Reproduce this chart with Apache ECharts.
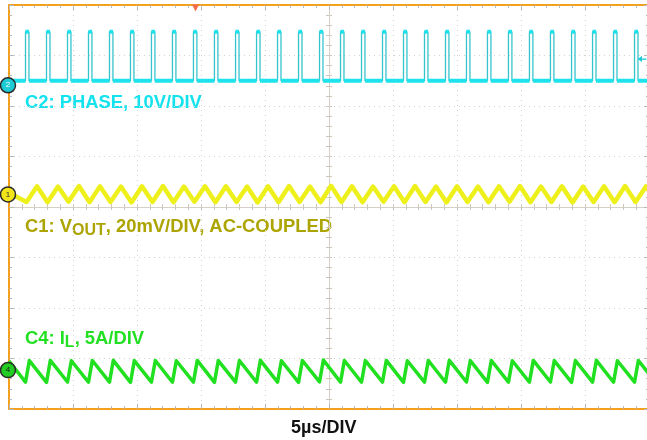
<!DOCTYPE html>
<html>
<head>
<meta charset="utf-8">
<title>Switching waveforms</title>
<script src="https://cdn.jsdelivr.net/npm/echarts@6.0.0/dist/echarts.min.js"></script>
<style>
  html, body { margin: 0; padding: 0; background: #fff; }
  #chart { width: 647px; height: 440px; }
</style>
</head>
<body>
<div id="chart"></div>
<script>
// time axis: µs from screen centre, 5 µs/div, 10 div wide
// PHASE switch node, rising / falling edge of every pulse (µs)
const phaseRise = [-23.71, -22.07, -20.43, -18.79, -17.15, -15.51, -13.87, -12.23, -10.59, -8.95,
  -7.30, -5.66, -4.02, -2.38, -0.74, 0.90, 2.54, 4.18, 5.82, 7.46,
  9.10, 10.74, 12.38, 14.02, 15.66, 17.30, 18.95, 20.59, 22.23, 23.87];
const phaseFall = [-23.44, -21.80, -20.16, -18.52, -16.88, -15.24, -13.60, -11.96, -10.32, -8.68,
  -7.03, -5.39, -3.75, -2.11, -0.47, 1.17, 2.81, 4.45, 6.09, 7.73,
  9.37, 11.01, 12.65, 14.29, 15.93, 17.57, 19.22, 20.86, 22.50, 24.14];
const phaseLevel = [0.9, 10.6]; // V, low / high

// VOUT ripple turning points (µs, mV, AC coupled)
const voutTime = [-25.00,
  -23.63, -22.81, -21.99, -21.17, -20.35, -19.53, -18.71, -17.89, -17.07, -16.25,
  -15.43, -14.61, -13.79, -12.97, -12.15, -11.33, -10.51, -9.69, -8.87, -8.05,
  -7.22, -6.40, -5.58, -4.76, -3.94, -3.12, -2.30, -1.48, -0.66, 0.16,
  0.98, 1.80, 2.62, 3.44, 4.26, 5.08, 5.90, 6.72, 7.54, 8.36,
  9.18, 10.00, 10.82, 11.64, 12.46, 13.28, 14.10, 14.92, 15.74, 16.56,
  17.38, 18.20, 19.03, 19.85, 20.67, 21.49, 22.31, 23.13, 23.95, 24.77,
  25.00];
const voutValue = [0.6,
  -3.0, 3.2, -3.1, 3.1, -2.9, 3.3, -3.1, 3.2, -3.0, 3.1,
  -3.2, 3.2, -3.0, 3.3, -3.1, 3.1, -2.9, 3.2, -3.1, 3.2,
  -3.0, 3.1, -3.2, 3.2, -3.1, 3.3, -3.0, 3.1, -3.1, 3.4,
  -3.0, 3.2, -3.1, 3.1, -2.9, 3.2, -3.1, 3.3, -3.0, 3.1,
  -3.2, 3.2, -3.0, 3.1, -3.1, 3.2, -2.9, 3.3, -3.1, 3.1,
  -3.0, 3.2, -3.2, 3.1, -3.0, 3.2, -3.1, 3.3, -3.0, 3.2,
  1.4];

// inductor current turning points (µs, A)
const ilTime = [-25.00,
  -23.71, -23.41, -22.07, -21.77, -20.43, -20.13, -18.79, -18.49, -17.15, -16.85,
  -15.51, -15.21, -13.87, -13.57, -12.23, -11.93, -10.59, -10.29, -8.95, -8.65,
  -7.30, -7.00, -5.66, -5.36, -4.02, -3.72, -2.38, -2.08, -0.74, -0.44,
  0.90, 1.20, 2.54, 2.84, 4.18, 4.48, 5.82, 6.12, 7.46, 7.76,
  9.10, 9.40, 10.74, 11.04, 12.38, 12.68, 14.02, 14.32, 15.66, 15.96,
  17.30, 17.60, 18.95, 19.25, 20.59, 20.89, 22.23, 22.53, 23.87, 24.17,
  25.00];
const ilValue = [0.90,
  -1.19, 0.94, -1.21, 0.96, -1.18, 0.93, -1.20, 0.95, -1.19, 0.97,
  -1.22, 0.94, -1.18, 0.95, -1.20, 0.93, -1.19, 0.96, -1.21, 0.94,
  -1.18, 0.95, -1.20, 0.97, -1.19, 0.93, -1.21, 0.95, -1.17, 1.00,
  -1.19, 0.95, -1.20, 0.94, -1.18, 0.96, -1.21, 0.93, -1.19, 0.95,
  -1.20, 0.97, -1.18, 0.94, -1.21, 0.95, -1.19, 0.93, -1.20, 0.96,
  -1.18, 0.94, -1.21, 0.95, -1.19, 0.97, -1.20, 0.93, -1.19, 0.95,
  -0.38];

// scope channel setup: units per div, ground marker in div from centre
const chScale = { C2: 10, C1: 20, C4: 5 };
const chOffset = { C2: 2.41, C1: 0.25, C4: -3.23 };
const trigTime = -10.43;   // trigger position marker
const trigLevel = 5.2;     // V on C2

const toDiv = (v, ch) => chOffset[ch] + v / chScale[ch];

// build screen data
const phaseLow = toDiv(phaseLevel[0], 'C2');
const phaseHigh = toDiv(phaseLevel[1], 'C2');
const phaseEdges = [[-25, phaseLow]];
const phaseBand = [[-25, phaseLow]];
phaseRise.forEach((t, i) => {
  phaseEdges.push([t, phaseLow], [t, phaseHigh], [phaseFall[i], phaseHigh], [phaseFall[i], phaseLow]);
  phaseBand.push([t, phaseLow], null, [t, phaseHigh], [phaseFall[i], phaseHigh], null, [phaseFall[i], phaseLow]);
});
phaseEdges.push([25, phaseLow]);
phaseBand.push([25, phaseLow]);
const voutData = voutTime.map((t, i) => [t, toDiv(voutValue[i], 'C1')]);
const ilData = ilTime.map((t, i) => [t, toDiv(ilValue[i], 'C4')]);

const ORANGE = '#f5a01c';
const TICK = '#b8b8b8';
const CENTER = '#d6d0c4';
const CENTER_TICK = '#cfc8ba';
const DOTS = { color: '#d2d2d2', type: [1, 4], width: 1 };
const FONT = '"Liberation Sans", Arial, sans-serif';

function axis(dim, position, o) {
  const base = dim === 'x'
    ? { min: -25, max: 25, interval: 5 }
    : { min: -4, max: 4, interval: 1 };
  const tickColor = o.tickColor || TICK;
  return Object.assign({
    type: 'value',
    position: position,
    offset: o.offset || 0,
    axisLabel: { show: false },
    axisLine: o.line
      ? { show: true, onZero: false, lineStyle: { color: o.line, width: o.lineWidth || 1 } }
      : { show: false, onZero: false },
    axisTick: { show: true, inside: true, length: o.tick, lineStyle: { color: tickColor } },
    minorTick: { show: true, splitNumber: 5, length: o.minor, lineStyle: { color: tickColor } },
    splitLine: { show: !!o.split, lineStyle: DOTS },
    z: o.z || 0
  }, base);
}

function chMarker(ch, num, fill, txt) {
  return {
    symbol: 'circle',
    symbolSize: 15,
    symbolOffset: [-1, 0],
    silent: true,
    itemStyle: { color: fill, borderColor: '#2b2b2b', borderWidth: 1.5 },
    label: { show: true, position: 'inside', formatter: num, fontSize: 8, color: txt, fontFamily: FONT },
    data: [{ coord: [-25, chOffset[ch]] }]
  };
}

const chart = echarts.init(document.getElementById('chart'));
chart.setOption({
  animation: false,
  backgroundColor: '#ffffff',
  grid: { left: 9, top: 5, width: 640, height: 404, outerBoundsMode: 'none', containLabel: false },
  xAxis: [
    axis('x', 'bottom', { line: ORANGE, lineWidth: 2, tick: 5, minor: 3, split: true, z: 1 }),
    axis('x', 'top', { line: ORANGE, lineWidth: 2, tick: 5, minor: 3, z: 1 }),
    axis('x', 'bottom', { offset: -202, line: CENTER, tick: 3, minor: 3, tickColor: CENTER_TICK }),
    axis('x', 'top', { offset: -202, tick: 3, minor: 3, tickColor: CENTER_TICK })
  ],
  yAxis: [
    axis('y', 'left', { line: ORANGE, lineWidth: 2, tick: 5, minor: 3, split: true, z: 1 }),
    axis('y', 'right', { line: ORANGE, lineWidth: 2, tick: 5, minor: 3, z: 1 }),
    axis('y', 'left', { offset: -320, line: CENTER, tick: 3, minor: 3, tickColor: CENTER_TICK }),
    axis('y', 'right', { offset: -320, tick: 3, minor: 3, tickColor: CENTER_TICK })
  ],
  series: [
    {
      name: 'PHASE edges',
      type: 'line',
      data: phaseEdges,
      symbol: 'none',
      lineStyle: { color: '#36c4cc', width: 1.3 }
    },
    {
      name: 'PHASE',
      type: 'line',
      data: phaseBand,
      symbol: 'none',
      connectNulls: false,
      lineStyle: { color: '#1ee3ec', width: 4, cap: 'butt' },
      markPoint: {
        silent: true,
        data: [
          {
            coord: [-25, chOffset.C2],
            symbol: 'circle', symbolSize: 15, symbolOffset: [-1, 0],
            itemStyle: { color: '#1ccbd6', borderColor: '#2b2b2b', borderWidth: 1.5 },
            label: { show: true, position: 'inside', formatter: '2', fontSize: 8, color: '#ffffff', fontFamily: FONT }
          },
          {
            coord: [trigTime, 4],
            symbol: 'triangle', symbolRotate: 180, symbolSize: [7, 7], symbolOffset: [0, 3],
            itemStyle: { color: '#f26b4a' },
            label: { show: false }
          },
          {
            coord: [25, toDiv(trigLevel, 'C2')],
            symbol: 'path://M0,5 L7,0 L7,4 L14,4 L14,6 L7,6 L7,10 Z',
            symbolSize: [9, 6], symbolOffset: [-7, 0],
            itemStyle: { color: '#1ccbd6' },
            label: { show: false }
          }
        ]
      }
    },
    {
      name: 'VOUT',
      type: 'line',
      data: voutData,
      symbol: 'none',
      lineStyle: { color: '#eef01c', width: 4.5, join: 'round' },
      markPoint: chMarker('C1', '1', '#f2e61a', '#333333')
    },
    {
      name: 'IL',
      type: 'line',
      data: ilData,
      symbol: 'none',
      lineStyle: { color: '#20e020', width: 3.5, join: 'round' },
      markPoint: chMarker('C4', '4', '#22cc22', '#1a1a1a')
    }
  ],
  graphic: [
    {
      type: 'text', left: 25, top: 94,
      style: { text: 'C2: PHASE, 10V/DIV', font: 'bold 18.4px ' + FONT, fill: '#14e2ee' }
    },
    {
      type: 'text', left: 25, top: 214,
      style: {
        text: '{m|C1: V}{s|OUT}{m|, 20mV/DIV, AC-COUPLED}',
        rich: {
          m: { fontSize: 18.4, fontWeight: 'bold', fontFamily: FONT, fill: '#aca400', lineHeight: 20 },
          s: { fontSize: 16, fontWeight: 'bold', fontFamily: FONT, fill: '#aca400', lineHeight: 16, padding: [9, 0, 0, 0] }
        }
      }
    },
    {
      type: 'text', left: 25, top: 326,
      style: {
        text: '{m|C4: I}{s|L}{m|, 5A/DIV}',
        rich: {
          m: { fontSize: 18.4, fontWeight: 'bold', fontFamily: FONT, fill: '#22e022', lineHeight: 20 },
          s: { fontSize: 16, fontWeight: 'bold', fontFamily: FONT, fill: '#22e022', lineHeight: 16, padding: [9, 0, 0, 0] }
        }
      }
    },
    {
      type: 'text', left: 291, top: 419,
      style: { text: '5µs/DIV', font: 'bold 18px ' + FONT, fill: '#111111' }
    }
  ]
});
</script>
</body>
</html>
